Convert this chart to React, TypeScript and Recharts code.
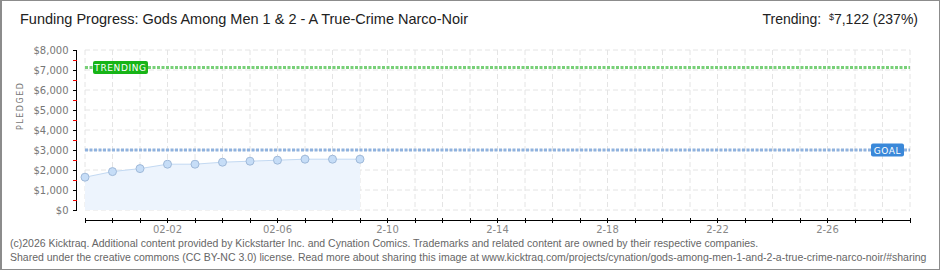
import {
  ComposedChart,
  Area,
  XAxis,
  YAxis,
  CartesianGrid,
  ReferenceLine,
} from "recharts";

// day index 0 = 01-30, chart runs to 03-01 (index 30)
const dayIndex = [0, 1, 2, 3, 4, 5, 6, 7, 8, 9, 10];
const pledged = [1640, 1920, 2070, 2290, 2290, 2390, 2440, 2490, 2540, 2540, 2540];

const allDays = Array.from({ length: 31 }, (_, i) => i);
const labelDays = [3, 7, 11, 15, 19, 23, 27];
const labelText = ["02-02", "02-06", "2-10", "2-14", "2-18", "2-22", "2-26"];

const yTicks = [0, 500, 1000, 1500, 2000, 2500, 3000, 3500, 4000, 4500, 5000, 5500, 6000, 6500, 7000, 7500, 8000];
const yGrid = [0, 1000, 2000, 3000, 4000, 5000, 6000, 7000, 8000];
const yMax = 8000;

const goal = 3000;
const trending = 7122;

// kicktraq draws its x axis detached below the plot area
const xAxisAt = -500;

const data = dayIndex.map((d, i) => ({ d, pledged: pledged[i] }));

const tickFont = "'DejaVu Sans', sans-serif";

function YTick({ x, y, payload }: any) {
  const v = payload.value as number;
  const major = v % 1000 === 0;
  const ax = x - 8.5;
  // ticks are 10px apart; each one draws its own piece of the axis line
  const up = v < yMax ? 5 : 0;
  const down = v > 0 ? 5 : 0;
  return (
    <g shapeRendering="crispEdges">
      <line x1={ax} x2={ax} y1={y - up} y2={y + down} stroke="#000" strokeWidth={1} />
      <line x1={ax - 4} x2={ax} y1={y + 0.5} y2={y + 0.5} stroke={major ? "#000" : "#e00"} strokeWidth={1} />
      {major && (
        <text x={ax - 8} y={y + 4} textAnchor="end" fontSize={10} fill="#777" fontFamily={tickFont}>
          {"$" + v.toLocaleString("en-US")}
        </text>
      )}
    </g>
  );
}

function XTick({ x, y, payload }: any) {
  const idx = labelDays.indexOf(payload.value);
  const ay = y + 10;
  return (
    <g>
      <line
        x1={x}
        x2={x}
        y1={ay - 2}
        y2={ay + 3}
        stroke="#000"
        strokeWidth={1}
        shapeRendering="crispEdges"
      />
      {idx >= 0 && (
        <text x={x} y={ay + 13} textAnchor="middle" fontSize={10} fill="#888" fontFamily={tickFont}>
          {labelText[idx]}
        </text>
      )}
    </g>
  );
}

function Tag({ viewBox, text, color, w, side }: any) {
  const h = 13;
  const bx = side === "left" ? viewBox.x + 8 : viewBox.x + viewBox.width - 6 - w;
  const by = viewBox.y - h / 2;
  return (
    <g>
      <rect x={bx} y={by} width={w} height={h} rx={2} fill={color} />
      <text
        x={bx + w / 2}
        y={by + 10}
        textAnchor="middle"
        fontSize={9}
        fill="#fff"
        fontFamily={tickFont}
        letterSpacing={0.6}
      >
        {text}
      </text>
    </g>
  );
}

export default function App() {
  return (
    <div style={{ position: "relative", width: 940, height: 270, background: "#fff", overflow: "hidden" }}>
      <style>{`body { margin: 0; }`}</style>
      <div
        style={{
          position: "absolute",
          left: 20,
          top: 11,
          fontFamily: "'Liberation Sans', sans-serif",
          fontSize: 14.5,
          color: "#222",
          whiteSpace: "nowrap",
        }}
      >
        Funding Progress: Gods Among Men 1 &amp; 2 - A True-Crime Narco-Noir
      </div>
      <div
        style={{
          position: "absolute",
          right: 22,
          top: 11,
          fontFamily: "'Liberation Sans', sans-serif",
          fontSize: 14,
          color: "#222",
          whiteSpace: "nowrap",
        }}
      >
        Trending:&nbsp; <span style={{ fontSize: 9, verticalAlign: 4 }}>$</span>7,122 (237%)
      </div>
      <div style={{ position: "absolute", left: 0, top: 0 }}>
        <ComposedChart
          width={940}
          height={270}
          data={data}
          margin={{ top: 50, right: 30, bottom: 30, left: 25 }}
        >
          <CartesianGrid
            stroke="#e4e4e4"
            strokeDasharray="5 3"
            horizontalValues={yGrid}
            verticalValues={allDays}
          />
          <XAxis
            dataKey="d"
            type="number"
            domain={[0, 30]}
            ticks={allDays}
            interval={0}
            height={30}
            tickSize={0}
            tickMargin={0}
            tickLine={false}
            axisLine={false}
            tick={<XTick />}
          />
          <YAxis
            domain={[0, yMax]}
            ticks={yTicks}
            interval={0}
            width={60}
            tickSize={0}
            tickMargin={0}
            tickLine={false}
            axisLine={false}
            tick={<YTick />}
            label={{
              value: "PLEDGED",
              angle: -90,
              position: "insideLeft",
              offset: -5,
              style: { fontSize: 8, fill: "#777", fontFamily: tickFont, letterSpacing: 1.5 },
            }}
          />
          <Area
            dataKey="pledged"
            type="linear"
            stroke="#c3d9f2"
            strokeWidth={1}
            fill="#edf4fd"
            fillOpacity={1}
            dot={{ r: 4, fill: "#c6ddf7", stroke: "#9fb9d9", strokeWidth: 1, fillOpacity: 1 }}
            isAnimationActive={false}
          />
          <ReferenceLine
            y={trending}
            stroke="#78d078"
            strokeWidth={3}
            strokeDasharray="3 1.5"
            label={<Tag text="TRENDING" color="#17b417" w={55} side="left" />}
          />
          <ReferenceLine
            y={goal}
            stroke="#8fb2de"
            strokeWidth={3}
            strokeDasharray="3 1.5"
            label={<Tag text="GOAL" color="#3a88d9" w={33} side="right" />}
          />
          <ReferenceLine
            y={xAxisAt}
            stroke="#000"
            strokeWidth={1}
            ifOverflow="visible"
            shapeRendering="crispEdges"
          />
        </ComposedChart>
      </div>
      <div
        style={{
          position: "absolute",
          left: 10,
          top: 236,
          fontFamily: "'Liberation Sans', sans-serif",
          fontSize: 10.5,
          lineHeight: "14px",
          color: "#666",
          whiteSpace: "nowrap",
        }}
      >
        (c)2026 Kicktraq. Additional content provided by Kickstarter Inc. and Cynation Comics. Trademarks and related
        content are owned by their respective companies.
        <br />
        Shared under the creative commons (CC BY-NC 3.0) license. Read more about sharing this image at
        www.kicktraq.com/projects/cynation/gods-among-men-1-and-2-a-true-crime-narco-noir/#sharing
      </div>
      <div
        style={{
          position: "absolute",
          inset: 0,
          border: "1px solid #8c8c8c",
          borderLeftWidth: 2,
          pointerEvents: "none",
        }}
      />
    </div>
  );
}
